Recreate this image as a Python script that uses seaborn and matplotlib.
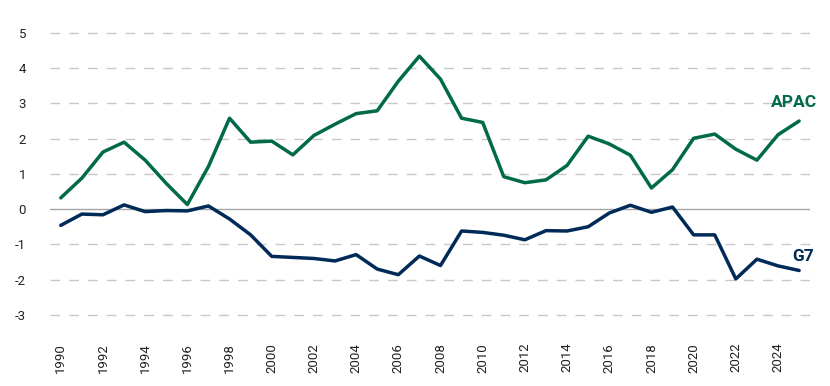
import pandas as pd
import numpy as np
import matplotlib.pyplot as plt
import seaborn as sns

years = list(range(1990, 2026))
apac = [0.32, 0.88, 1.62, 1.90, 1.39, 0.73, 0.13, 1.21, 2.58, 1.90,
        1.93, 1.54, 2.09, 2.41, 2.71, 2.79, 3.63, 4.34, 3.69, 2.58,
        2.46, 0.92, 0.75, 0.83, 1.24, 2.07, 1.85, 1.53, 0.60, 1.12,
        2.01, 2.13, 1.70, 1.39, 2.11, 2.50]
g7 = [-0.46, -0.14, -0.16, 0.12, -0.07, -0.04, -0.05, 0.09, -0.28, -0.73,
      -1.34, -1.37, -1.40, -1.47, -1.29, -1.70, -1.86, -1.33, -1.60, -0.62,
      -0.66, -0.74, -0.87, -0.61, -0.62, -0.50, -0.11, 0.11, -0.09, 0.06,
      -0.73, -0.73, -1.98, -1.42, -1.61, -1.74]
series_names = ["APAC", "G7"]
colors = {"APAC": "#006a4b", "G7": "#002a57"}

df = pd.DataFrame({"year": years, "APAC": apac, "G7": g7})
df = df.melt(id_vars="year", var_name="region", value_name="value")

sns.set_style("white")
plt.rcParams['font.family'] = ['Roboto', 'DejaVu Sans']
plt.rcParams['axes.unicode_minus'] = False

fig = plt.figure(figsize=(8.3, 3.86), dpi=100)
ax = fig.add_axes([0.060, 0.166, 0.916, 0.767])

# gridlines: dashed, solid at zero
for yv in range(-3, 6):
    if yv == 0:
        ax.axhline(0, color="#a6a6a6", lw=1.0, zorder=1)
    else:
        ax.axhline(yv, color="#c8c8c8", lw=1.0, ls=(0, (7, 6.5)), zorder=1)

sns.lineplot(data=df, x="year", y="value", hue="region", palette=colors,
             linewidth=2.5, legend=False, ax=ax, zorder=3)

ax.set_xlim(1989.48, 2025.52)
ax.set_ylim(-3.2, 5.2)
ax.set_yticks(range(-3, 6))
ax.set_xticks(range(1990, 2026, 2))
ax.set_xticklabels([str(y) for y in range(1990, 2026, 2)], rotation=90)
ax.tick_params(axis="y", length=0, pad=17, labelsize=9.5, labelcolor="#222222")
ax.tick_params(axis="x", length=0, pad=15, labelsize=9.5, labelcolor="#222222")
ax.set_xlabel("")
ax.set_ylabel("")
sns.despine(ax=ax, left=True, bottom=True)

ax.text(2025.85, 3.02, "APAC", color=colors["APAC"], fontsize=12.5,
        fontweight="bold", ha="right", va="center", clip_on=False)
ax.text(2025.71, -1.34, "G7", color=colors["G7"], fontsize=12.5,
        fontweight="bold", ha="right", va="center", clip_on=False)

fig.savefig("out.png", dpi=100)
